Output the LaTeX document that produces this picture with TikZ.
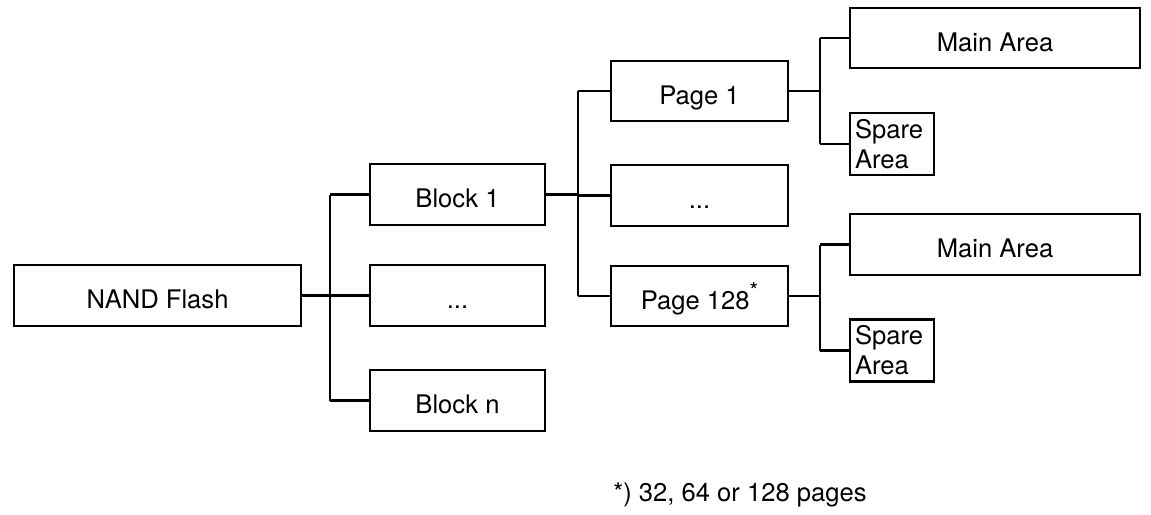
\documentclass[tikz,border=0pt]{standalone}
\usepackage{fontspec}
\setmainfont{TeX Gyre Heros}
\begin{document}
\begin{tikzpicture}[x=0.5pt,y=-0.5pt,
  box/.style={draw=black,line width=1.2pt,inner sep=0pt,align=center,font=\fontsize{12.8}{15}\selectfont},
  onerow/.style={text height=13pt,text depth=0pt},
  sparebox/.style={box,minimum width=42pt,minimum height=31pt,align=left,text width=37pt},
  link/.style={draw=black,line width=1.2pt}]
\useasboundingbox (0,0) rectangle (1151,514);
\node[box,onerow,minimum width=143.5pt,minimum height=30.5pt] (nand) at (157.5,295.5) {NAND Flash};
\node[box,onerow,minimum width=87.5pt,minimum height=30.5pt] (b1) at (457.5,194.5) {Block 1};
\node[box,onerow,minimum width=87.5pt,minimum height=30.5pt] (bd) at (457.5,295.5) {...};
\node[box,onerow,minimum width=87.5pt,minimum height=30.5pt] (bn) at (457.5,400.5) {Block n};
\node[box,onerow,minimum width=88.5pt,minimum height=30pt] (p1) at (699.5,91) {Page 1};
\node[box,onerow,minimum width=88.5pt,minimum height=30.5pt] (pd) at (699.5,195.5) {...};
\node[box,onerow,minimum width=88.5pt,minimum height=30pt] (p128) at (699.5,296) {Page 128\raisebox{0.42em}{\fontsize{11}{11}\selectfont *}};
\node[box,onerow,minimum width=145pt,minimum height=30pt] (m1) at (995,38) {Main Area};
\node[sparebox] (s1) at (892,144) {Spare\\Area};
\node[box,onerow,minimum width=145pt,minimum height=30.5pt] (m2) at (995,244.5) {Main Area};
\node[sparebox] (s2) at (892,350.5) {Spare\\Area};
\node[font=\fontsize{12.8}{15}\selectfont,inner sep=0pt] (note) at (740,495) {*) 32, 64 or 128 pages};
\coordinate (j1) at (330,0);
\coordinate (j2) at (578,0);
\coordinate (j3) at (820,0);
\path[link] (nand.east) -- (j1 |- nand.east);
\path[link] (j1 |- b1.west) -- (j1 |- bn.west);
\path[link] (j1 |- b1.west) -- (b1.west);
\path[link] (j1 |- bd.west) -- (bd.west);
\path[link] (j1 |- bn.west) -- (bn.west);
\path[link] (b1.east) -- (j2 |- b1.east);
\path[link] (j2 |- p1.west) -- (j2 |- p128.west);
\path[link] (j2 |- p1.west) -- (p1.west);
\path[link] (j2 |- pd.west) -- (pd.west);
\path[link] (j2 |- p128.west) -- (p128.west);
\path[link] (p1.east) -- (j3 |- p1.east);
\path[link] (j3 |- m1.west) -- (j3 |- s1.west);
\path[link] (j3 |- m1.west) -- (m1.west);
\path[link] (j3 |- s1.west) -- (s1.west);
\path[link] (p128.east) -- (j3 |- p128.east);
\path[link] (j3 |- m2.west) -- (j3 |- s2.west);
\path[link] (j3 |- m2.west) -- (m2.west);
\path[link] (j3 |- s2.west) -- (s2.west);
\end{tikzpicture}
\end{document}
